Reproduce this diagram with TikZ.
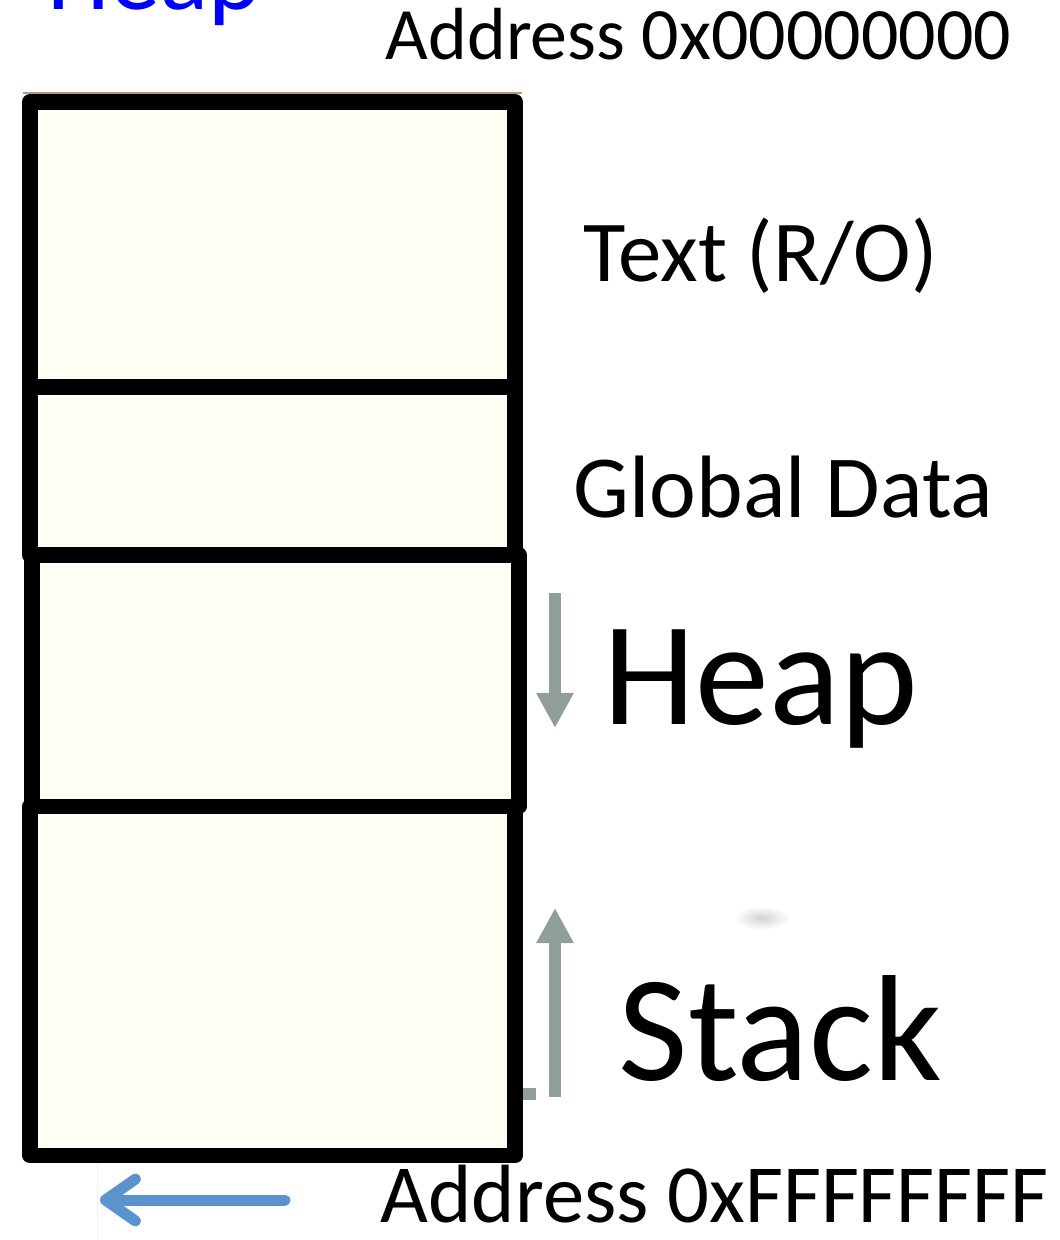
\documentclass[tikz,border=0pt]{standalone}
\usepackage{fontspec}
\setmainfont{Carlito}
\usetikzlibrary{positioning, calc, arrows.meta}

\definecolor{segfill}{RGB}{255,254,244}
\definecolor{growgray}{RGB}{143,159,151}
\definecolor{ptrblue}{RGB}{91,147,205}
\definecolor{titleblue}{RGB}{0,0,255}
\definecolor{rimtan}{RGB}{181,154,120}

\begin{document}
\begin{tikzpicture}[
  x=0.01cm, y=-0.01cm,
  segment/.style   = {draw, fill=segfill, rectangle, line width=0.155cm, line join=round,
                      inner sep=0pt, outer sep=0pt, minimum width=4.85cm},
  seglabel/.style  = {anchor=base west, inner sep=0pt},
  growarrow/.style = {draw=growgray, line width=0.12cm, -{Triangle[length=0.35cm, width=0.35cm]}},
  pointer/.style   = {draw=ptrblue, line width=0.11cm, line cap=round,
                      -{Straight Barb[length=0.3cm, width=0.42cm, round]}},
]
  \clip (0,0) rectangle (1059,1240);
  \useasboundingbox (0,0) rectangle (1059,1240);

  % ---- memory segments, top (low address) to bottom ----
  \draw[rimtan, line width=0.02cm] (23,93) -- (522,93);
  \node[segment, minimum height=2.85cm]                      (textseg)  at (272.5,244.5) {};
  \node[segment, minimum height=1.68cm, below=0pt of textseg] (dataseg) {};
  \node[segment, minimum height=2.51cm, minimum width=4.87cm,
        below=0pt of dataseg, xshift=0.03cm]                  (heapseg)  {};
  \node[segment, minimum height=3.49cm, below=0pt of heapseg,
        xshift=-0.03cm]                                       (stackseg) {};

  % ---- labels on the right ----
  \node[seglabel, font=\fontsize{28.5pt}{30pt}\selectfont, text=titleblue] (title)   at (47,10)   {Heap};
  \node[seglabel, font=\fontsize{21pt}{24pt}\selectfont]   (addrlow)  at (385,60)   {Address 0x00000000};
  \node[seglabel, font=\fontsize{24.7pt}{28pt}\selectfont] (textlbl)  at (583,282)  {Text (R/O)};
  \node[seglabel, font=\fontsize{25.2pt}{28pt}\selectfont] (datalbl)  at (573,518)  {Global Data};
  \node[seglabel, font=\fontsize{42pt}{46pt}\selectfont]   (heaplbl)  at (603,724)  {Heap};
  \node[seglabel, font=\fontsize{43pt}{47pt}\selectfont]   (stacklbl) at (618,1080) {Stack};
  \node[seglabel, font=\fontsize{23.5pt}{26pt}\selectfont] (addrhigh) at (380,1222) {Address 0xFFFFFFFF};

  % ---- growth directions ----
  \coordinate (heaptop) at (555,593);
  \coordinate (heapend) at (555,728);
  \coordinate (stackbot) at (555,1097);
  \coordinate (stackend) at (555,908);
  \draw[growarrow] (heaptop) -- (heapend);
  \draw[growarrow] (stackbot) -- (stackend);
  \fill[growgray] (523,1088) rectangle (536,1100);
  \shade[inner color=gray!35, outer color=white] (762,918) ellipse (28 and 12);

  % ---- pointer at the top of the address space ----
  \draw[gray!12, line width=0.01cm] (97,1163) -- (97,1240);
  \coordinate (ptrtail) at (285,1200);
  \coordinate (ptrtip)  at (100,1200);
  \draw[pointer] (ptrtail) -- (ptrtip);
\end{tikzpicture}
\end{document}
